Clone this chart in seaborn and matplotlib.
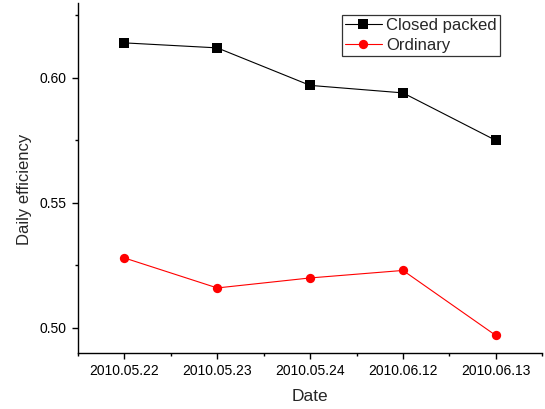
import matplotlib
matplotlib.use("Agg")
import matplotlib.pyplot as plt
from matplotlib.ticker import MultipleLocator, FixedLocator, FormatStrFormatter
import seaborn as sns
import pandas as pd

dates = ["2010.05.22", "2010.05.23", "2010.05.24", "2010.06.12", "2010.06.13"]
closed_packed = [0.614, 0.612, 0.597, 0.594, 0.575]
ordinary = [0.528, 0.516, 0.520, 0.523, 0.497]
series_names = ["Closed packed", "Ordinary"]

sns.set_style("ticks")
plt.rcParams["font.family"] = ["Liberation Sans", "DejaVu Sans"]

df = pd.DataFrame({
    "pos": list(range(len(dates))) * 2,
    "value": closed_packed + ordinary,
    "series": [series_names[0]] * len(dates) + [series_names[1]] * len(dates),
})

fig = plt.figure(figsize=(5.45, 4.09), dpi=100)
ax = fig.add_axes([0.143, 0.137, 0.852, 0.856])

sns.lineplot(
    data=df, x="pos", y="value", hue="series", style="series",
    palette={series_names[0]: "black", series_names[1]: "red"},
    markers={series_names[0]: "s", series_names[1]: "o"},
    dashes=False, linewidth=0.8, markersize=6.7, markeredgewidth=0,
    ax=ax,
)

ax.set_xlim(-0.5, 4.5)
ax.set_ylim(0.49, 0.63)
ax.set_xticks(range(len(dates)))
ax.set_xticklabels(dates)
ax.xaxis.set_minor_locator(FixedLocator([-0.5, 0.5, 1.5, 2.5, 3.5, 4.5]))
ax.yaxis.set_major_locator(MultipleLocator(0.05))
ax.yaxis.set_minor_locator(MultipleLocator(0.025))
ax.yaxis.set_major_formatter(FormatStrFormatter("%.2f"))

for side in ("top", "right"):
    ax.spines[side].set_visible(False)
for side in ("left", "bottom"):
    ax.spines[side].set_linewidth(1.0)
    ax.spines[side].set_color("black")

ax.tick_params(which="major", direction="out", length=4.5, width=1.0, labelsize=10, colors="black", pad=3.5)
ax.tick_params(which="minor", direction="out", length=2.5, width=1.0, colors="black")

ax.set_xlabel("Date", fontsize=12.5, labelpad=8)
ax.set_ylabel("Daily efficiency", fontsize=12)
ax.yaxis.set_label_coords(-0.10, 0.466)

leg = ax.legend(
    loc="upper left", bbox_to_anchor=(0.568, 0.966), frameon=True, fancybox=False,
    fontsize=12, handlelength=2.2, handletextpad=0.25, borderpad=0.2,
    labelspacing=0.3, borderaxespad=0,
)
leg.get_frame().set_edgecolor("black")
leg.get_frame().set_linewidth(0.9)

fig.savefig("out.png", dpi=100)
